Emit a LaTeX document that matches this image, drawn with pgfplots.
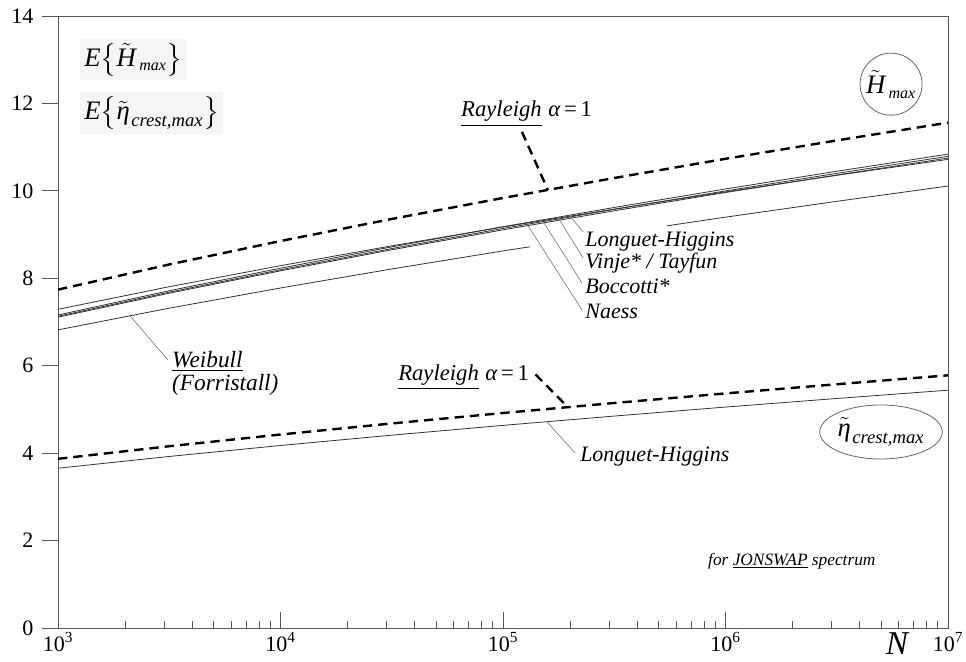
\documentclass[border=0pt]{standalone}
\usepackage{fontspec}
\setmainfont{Liberation Serif}
\usepackage{amsmath}
\usepackage{pgfplots}
\pgfplotsset{compat=1.18}
\usetikzlibrary{calc,shapes.geometric}
\pgfplotstableread{
N R RC A B C D LHC
1000 7.74 3.87 7.29 7.16 7.13 7.11 3.655
3162.28 8.316 4.158 7.807 7.715 7.682 7.659 3.924
10000 8.852 4.426 8.288 8.231 8.195 8.170 4.175
31622.8 9.357 4.679 8.742 8.718 8.679 8.651 4.411
100000 9.837 4.918 9.173 9.180 9.139 9.108 4.635
316228 10.294 5.147 9.583 9.620 9.577 9.544 4.848
1000000 10.733 5.366 9.977 10.043 9.998 9.962 5.054
3162278 11.153 5.576 10.355 10.448 10.400 10.362 5.250
10000000 11.56 5.78 10.72 10.84 10.79 10.75 5.44
}\curves
\pgfplotstableread{
N W
1000 6.82
3162.28 7.316
10000 7.778
31622.8 8.213
100000 8.626
132130 8.72
}\weibA
\pgfplotstableread{
N W
545758 9.20
1000000 9.398
3162278 9.760
10000000 10.11
}\weibB
\tikzset{lbl/.style={font=\itshape\fontsize{16.5}{18}\selectfont, inner sep=0pt, anchor=base west},
  lead/.style={draw=black!55, line width=0.45pt},
  ray/.style={black, line width=1.8pt, dash pattern=on 7pt off 4.5pt},
  sol/.style={black!80, line width=0.6pt}}
\newcommand{\Hmax}{\tilde{\mbox{\itshape H}}_{\mbox{\fontsize{12}{12}\selectfont\itshape\kern2.5pt max}}}
\newcommand{\Eta}{\tilde{\mbox{\itshape η}}_{\mbox{\fontsize{14}{14}\selectfont\itshape\kern1pt crest,max}}}
\begin{document}
\begin{tikzpicture}
\begin{axis}[name=ax, scale only axis, width=667.5pt, height=459pt,
  xmode=log, xmin=1e3, xmax=1e7, ymin=0, ymax=14,
  ytick={0,2,...,14}, xtick={1e3,1e4,1e5,1e6,1e7},
  xticklabels={10\textsuperscript{3},10\textsuperscript{4},10\textsuperscript{5},10\textsuperscript{6},10\textsuperscript{7}},
  xtick align=inside, ytick align=outside,
  xtick pos=bottom, ytick pos=left,
  major tick length=12pt, minor tick length=5pt,
  axis line style={black!65, line width=0.7pt},
  every tick/.style={black!65, line width=0.6pt},
  xticklabel style={font=\rmfamily\fontsize{16.5}{17}\selectfont},
  yticklabel style={font=\rmfamily\fontsize{16.5}{17}\selectfont, xshift=-3pt},
  /pgf/number format/assume math mode=true,
  clip=false]
\addplot[ray] table[x=N,y=R] {\curves};
\addplot[ray] table[x=N,y=RC] {\curves};
\addplot[sol] table[x=N,y=A] {\curves};
\addplot[sol] table[x=N,y=B] {\curves};
\addplot[sol] table[x=N,y=C] {\curves};
\addplot[sol] table[x=N,y=D] {\curves};
\addplot[sol] table[x=N,y=LHC] {\curves};
\addplot[sol] table[x=N,y=W] {\weibA};
\addplot[sol] table[x=N,y=W] {\weibB};
% labels
\node[anchor=west, fill=black!4, inner sep=3pt] at (axis cs:1256,13.0) {\fontsize{20}{22}\selectfont\itshape E\upshape$\left\{\Hmax\right\}$};
\node[anchor=west, fill=black!4, inner sep=3pt] at (axis cs:1256,11.78) {\fontsize{20}{22}\selectfont\itshape E\upshape$\left\{\Eta\right\}$};
\node[draw=black!60, circle, minimum size=46.5pt, inner sep=0pt, line width=0.6pt] at (axis cs:5.546e6,12.44) {\fontsize{20}{22}\selectfont$\Hmax$};
\node[draw=black!60, ellipse, minimum width=78pt, minimum height=40.5pt, inner sep=0pt, line width=0.6pt] at (axis cs:5.0e6,4.484) {\fontsize{20}{22}\selectfont$\Eta$};
\node[lbl, font=\itshape\fontsize{17}{19}\selectfont] at (axis cs:64730,11.69) {\underline{Rayleigh}\kern5pt{\itshape α}\,\upshape=\,1};
\draw[ray] (axis cs:121600,11.35) -- (axis cs:159200,10.02);
\node[lbl, font=\itshape\fontsize{17}{19}\selectfont] at (axis cs:33730,5.67) {\underline{Rayleigh}\kern5pt{\itshape α}\,\upshape=\,1};
\draw[ray] (axis cs:140000,5.80) -- (axis cs:195900,5.05);
\node[lbl] at (axis cs:233900,8.716) {Longuet-Higgins};
\node[lbl] at (axis cs:233900,8.235) {Vinje* / Tayfun};
\node[lbl] at (axis cs:233900,7.66) {Boccotti*};
\node[lbl] at (axis cs:233900,7.09) {Naess};
\draw[lead] (axis cs:229100,9.06) -- (axis cs:200000,9.42);
\draw[lead] (axis cs:229100,8.464) -- (axis cs:176600,9.397);
\draw[lead] (axis cs:226500,7.892) -- (axis cs:151400,9.297);
\draw[lead] (axis cs:226500,7.275) -- (axis cs:129400,9.206);
\node[lbl, font=\itshape\fontsize{17.5}{19}\selectfont] at (axis cs:3251,5.97) {\underline{Weibull}};
\node[lbl, font=\itshape\fontsize{17.5}{19}\selectfont] at (axis cs:3251,5.44) {(Forristall)};
\draw[lead] (axis cs:3119,6.13) -- (axis cs:2109,7.14);
\node[lbl] at (axis cs:221800,3.80) {Longuet-Higgins};
\draw[lead] (axis cs:210900,4.003) -- (axis cs:157800,4.712);
\node[lbl, font=\itshape\fontsize{13}{14}\selectfont] at (axis cs:833700,1.44) {for \underline{JONSWAP} spectrum};
\node[anchor=base, inner sep=0pt, font=\itshape\fontsize{25}{26}\selectfont] at (axis cs:5.9e6,-0.6) {N};
\end{axis}
\pgfresetboundingbox
\useasboundingbox ($(ax.south west)+(-43.5pt,-25.5pt)$) rectangle ($(ax.north east)+(13.5pt,12pt)$);
\end{tikzpicture}
\end{document}
